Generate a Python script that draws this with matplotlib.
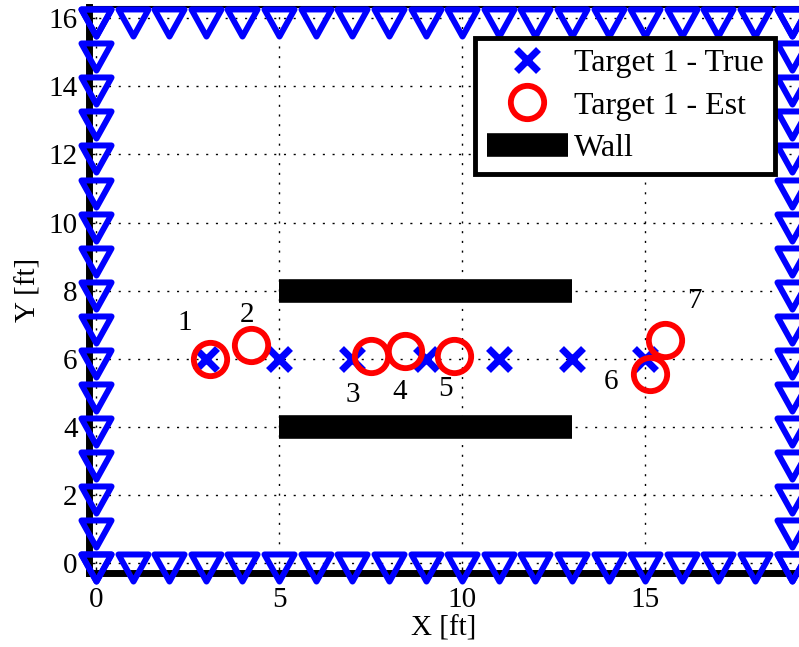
import numpy as np
import matplotlib
matplotlib.use("Agg")
import matplotlib.pyplot as plt
from matplotlib.path import Path

# sensor positions along the room boundary
sensor_x_bottom = np.arange(0, 20)
sensor_y_side = np.arange(0, 17)
room_w = 19
room_h = 16

# target true and estimated positions
true_x = [3, 5, 7, 9, 11, 13, 15]
true_y = [6, 6, 6, 6, 6, 6, 6]
est_x = [3.1, 4.23, 7.51, 8.44, 9.78, 15.12, 15.55]
est_y = [6.0, 6.4, 6.08, 6.23, 6.08, 5.54, 6.55]

# estimate number labels
lab_text = ["1", "2", "3", "4", "5", "6", "7"]
lab_x = [2.43, 4.13, 7.02, 8.3, 9.54, 14.07, 16.34]
lab_y = [7.06, 7.28, 4.93, 5.03, 5.1, 5.32, 7.7]

# walls
wall_x = [5, 13]
wall_ys = [8, 4]

plt.rcParams["font.family"] = ["Liberation Serif", "DejaVu Serif"]
plt.rcParams["font.size"] = 21

# downward triangle centred on its centroid (MATLAB style)
tri_path = Path([(-1, 0.6), (1, 0.6), (0, -1.2), (-1, 0.6)],
                [Path.MOVETO, Path.LINETO, Path.LINETO, Path.CLOSEPOLY])

fig = plt.figure(figsize=(7.99, 6.47), dpi=100)
ax = fig.add_axes([88.7 / 799, 74 / 647, 1 - 88.7 / 799, (640 - 74) / 647])

ax.set_xlim(-0.2, 19.2)
ax.set_ylim(-0.29, 16.33)

ax.grid(True, linestyle=(0, (1.5, 5.5)), color="black", linewidth=1)
ax.set_axisbelow(True)

for i, wy in enumerate(wall_ys):
    ax.plot(wall_x, [wy, wy], color="black", linewidth=17, solid_capstyle="butt",
            label="Wall" if i == 0 else None, zorder=3)

ax.plot(true_x, true_y, linestyle="none", marker="x", markersize=16, markeredgewidth=5,
        color="blue", label="Target 1 - True", zorder=4)
ax.plot(est_x, est_y, linestyle="none", marker="o", markersize=24, markeredgewidth=4.2,
        markerfacecolor="none", markeredgecolor="red", label="Target 1 - Est", zorder=5)

tri = dict(linestyle="none", marker=tri_path, markersize=26, markeredgewidth=4.3,
           markerfacecolor="none", markeredgecolor="blue", clip_on=False, zorder=6)
ax.plot(sensor_x_bottom, np.zeros_like(sensor_x_bottom), **tri)
ax.plot(sensor_x_bottom, np.full_like(sensor_x_bottom, room_h), **tri)
ax.plot(np.zeros_like(sensor_y_side), sensor_y_side, **tri)
ax.plot(np.full_like(sensor_y_side, room_w), sensor_y_side, **tri)

for t, lx, ly in zip(lab_text, lab_x, lab_y):
    ax.text(lx, ly, t, ha="center", va="center", fontsize=21)

ax.set_xticks([0, 5, 10, 15])
ax.set_yticks(np.arange(0, 17, 2))
ax.tick_params(direction="in", length=4, width=1, pad=10)
ax.tick_params(axis="y", pad=8)

ax.spines["left"].set_linewidth(5)
ax.spines["bottom"].set_linewidth(5)
ax.spines["top"].set_linewidth(1.5)
ax.spines["right"].set_visible(False)

ax.set_xlabel("X [ft]", labelpad=2)
ax.set_ylabel("Y [ft]", labelpad=5)

handles, labels = ax.get_legend_handles_labels()
order = [labels.index("Target 1 - True"), labels.index("Target 1 - Est"), labels.index("Wall")]
leg = ax.legend([handles[i] for i in order], [labels[i] for i in order],
                loc="upper left", bbox_to_anchor=(0.544, 0.946), fancybox=False,
                framealpha=1, edgecolor="black", handlelength=2.55, handletextpad=0.18,
                labelspacing=0.4, borderpad=0.36, borderaxespad=0, fontsize=23)
leg.get_frame().set_linewidth(3.5)
leg.set_zorder(10)

fig.savefig("out.png", dpi=100)
